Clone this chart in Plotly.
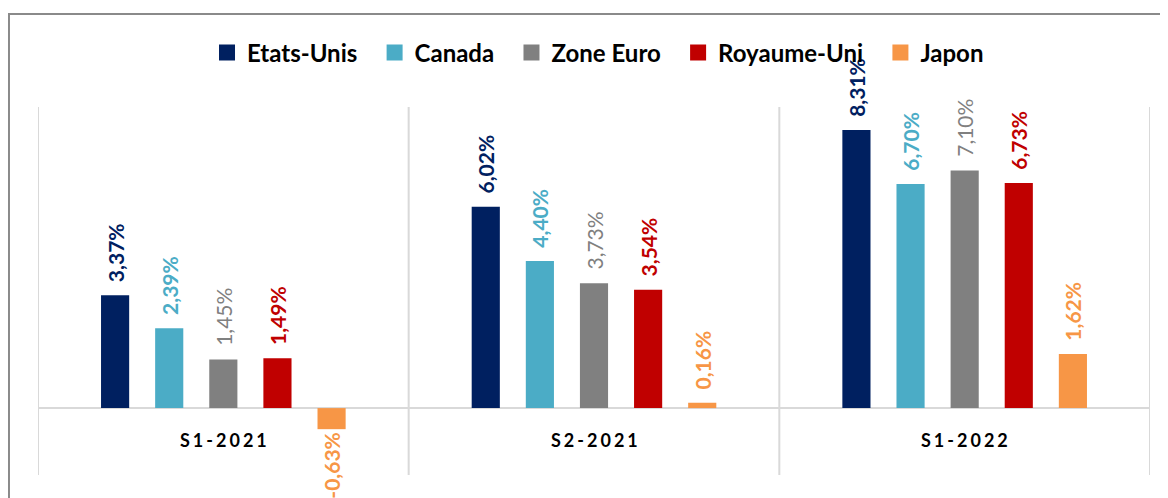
import plotly.graph_objects as go

categories = ["S1-2021", "S2-2021", "S1-2022"]
series_names = ["Etats-Unis", "Canada", "Zone Euro", "Royaume-Uni", "Japon"]
etats_unis = [3.37, 6.02, 8.31]
canada = [2.39, 4.40, 6.70]
zone_euro = [1.45, 3.73, 7.10]
royaume_uni = [1.49, 3.54, 6.73]
japon = [-0.63, 0.16, 1.62]

colors = ["#002060", "#4BACC6", "#808080", "#C00000", "#F79646"]
bold = [True, True, False, True, True]
values = [etats_unis, canada, zone_euro, royaume_uni, japon]

FONT = "Lato"

def fmt(v):
    return f"{v:.2f}%".replace(".", ",")

fig = go.Figure()
for name, vals, col, b in zip(series_names, values, colors, bold):
    txt = []
    for v in vals:
        s = fmt(v)
        if v >= 0:
            s = "\u00a0\u00a0" + s
        txt.append(f"<b>{s}</b>" if b else s)
    fig.add_trace(go.Bar(
        x=categories, y=vals, name=name, marker=dict(color=col, line=dict(width=0)),
        text=txt, textposition="outside", textangle=-90,
        textfont=dict(color=col, size=21, family=FONT),
        cliponaxis=False, constraintext="none", showlegend=False,
    ))
    fig.add_trace(go.Scatter(
        x=[None], y=[None], mode="markers", name=f"<b>{name}</b>\u00a0\u00a0",
        marker=dict(symbol="square", size=16, color=col),
        showlegend=True,
    ))

shapes = []
for xv in [-0.5, 0.5, 1.5, 2.5]:
    shapes.append(dict(type="line", xref="x", yref="y", x0=xv, x1=xv, y0=-2, y1=9,
                       line=dict(color="#D9D9D9", width=2), layer="below"))
shapes.append(dict(type="line", xref="x", yref="y", x0=-0.5, x1=2.5, y0=0, y1=0,
                   line=dict(color="#D9D9D9", width=2), layer="below"))
shapes.append(dict(type="rect", xref="paper", yref="paper", x0=-0.0261, x1=1.03,
                   y0=-0.1, y1=1.2527, line=dict(color="#8A8A8A", width=2),
                   fillcolor="rgba(0,0,0,0)"))

annotations = []
for c in categories:
    spaced = "\u2006".join(list(c))
    annotations.append(dict(x=c, y=-0.95, xref="x", yref="y", text=f"<b>{spaced}</b>",
                            showarrow=False, font=dict(size=18, color="#000000", family=FONT)))

fig.update_layout(
    width=1160, height=490,
    margin=dict(l=30, r=18, t=99, b=23),
    paper_bgcolor="white", plot_bgcolor="white",
    barmode="group", bargap=0.27, bargroupgap=0.48,
    xaxis=dict(showticklabels=False, showgrid=False, zeroline=False, showline=False,
               range=[-0.5, 2.5]),
    yaxis=dict(range=[-2, 9], showticklabels=False, showgrid=False, zeroline=False,
               showline=False),
    legend=dict(orientation="h", x=0.509, xanchor="center", y=1.147, yanchor="middle",
                font=dict(size=24, family=FONT, color="#000000"),
                itemsizing="trace", bgcolor="rgba(0,0,0,0)"),
    shapes=shapes, annotations=annotations,
    font=dict(family=FONT),
)

fig.write_html("out.html")
